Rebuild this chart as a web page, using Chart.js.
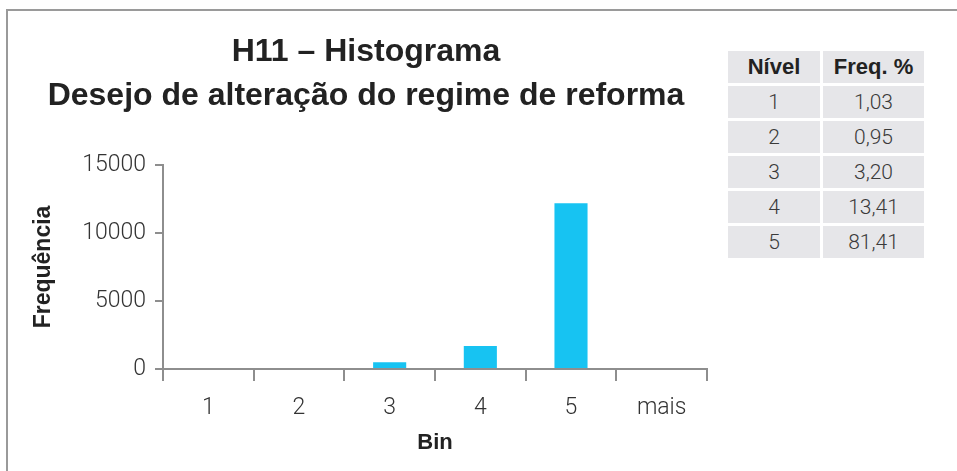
<!DOCTYPE html>
<html>
<head>
<meta charset="utf-8">
<script src="https://cdn.jsdelivr.net/npm/chart.js@4"></script>
<style>
  body { margin: 0; background: #fff; width: 957px; height: 471px; overflow: hidden; position: relative; font-family: Roboto, "Liberation Sans", sans-serif; }
  #frame { position: absolute; left: 6px; top: 9px; width: 1000px; height: 500px; border-top: 2px solid #9a9a9a; border-left: 2px solid #9a9a9a; }
  #wrap { position: absolute; left: 25px; top: 10px; width: 700px; height: 461px; }
  #tabela { position: absolute; left: 725px; top: 48px; border-collapse: separate; border-spacing: 3px; }
  #tabela td, #tabela th { background: #e6e6e9; height: 32px; padding: 0; text-align: center; font-size: 21px; color: #3a3a3a; font-weight: 300; }
  #tabela th { font-family: "Liberation Sans", sans-serif; font-size: 22px; font-weight: 700; color: #222; }
</style>
</head>
<body>
<div id="frame"></div>
<div id="wrap"><canvas id="myChart" width="700" height="461"></canvas></div>
<table id="tabela"></table>
<script>
// dados do histograma
var bins = ['1', '2', '3', '4', '5', 'mais']
var frequencia = [0, 0, 490, 1690, 12190, 0]
var yTicks = [0, 5000, 10000, 15000]

// tabela ao lado
var niveis = ['1', '2', '3', '4', '5']
var freqPct = ['1,03', '0,95', '3,20', '13,41', '81,41']

function start(){
  var tab = document.getElementById('tabela')
  var html = '<tr><th style="width:92px">Nível</th><th style="width:101px">Freq. %</th></tr>'
  for (var i = 0; i < niveis.length; i++) {
    html += `<tr><td>${niveis[i]}</td><td>${freqPct[i]}</td></tr>`
  }
  tab.innerHTML = html

  var ctx = document.getElementById('myChart').getContext('2d')
  var eixo = '#8e8e8e'
  var tickFont = { family: 'Roboto', size: 23, weight: 300 }
  var myChart = new Chart(ctx, {
    type: 'bar',
    data: {
      labels: bins,
      datasets: [{
        label: 'Frequência',
        data: frequencia,
        backgroundColor: '#17c3f2',
        borderWidth: 0,
        categoryPercentage: 1,
        barPercentage: 0.365
      }]
    },
    options: {
      responsive: false,
      animation: false,
      layout: { padding: { left: 0, right: 18, top: 0, bottom: 0 } },
      plugins: {
        legend: { display: false },
        tooltip: { enabled: false },
        title: {
          display: true,
          text: ['H11 – Histograma', 'Desejo de alteração do regime de reforma'],
          color: '#222',
          font: { family: 'Liberation Sans', size: 32, weight: 'bold', lineHeight: 1.375 },
          padding: { top: 20, bottom: 47 }
        }
      },
      scales: {
        x: {
          z: 1,
          offset: true,
          grid: { display: true, drawOnChartArea: false, drawTicks: true, tickLength: 12, color: eixo, lineWidth: 2, offset: true },
          border: { display: true, color: eixo, width: 2 },
          ticks: { color: '#333', font: tickFont, padding: 13, maxRotation: 0 },
          title: { display: true, text: 'Bin', color: '#222', font: { family: 'Liberation Sans', size: 22, weight: 'bold' }, padding: { top: 0, bottom: 15 } },
          afterFit: function(s){ s.height = 102 }
        },
        y: {
          min: 0,
          max: 15000,
          afterBuildTicks: function(s){ s.ticks = yTicks.map(v => ({ value: v })) },
          grid: { display: true, drawOnChartArea: false, drawTicks: true, tickLength: 8, color: eixo, lineWidth: 2 },
          border: { display: true, color: eixo, width: 2 },
          ticks: { color: '#333', font: tickFont, padding: 9, callback: v => v },
          title: { display: true, text: 'Frequência', color: '#222', font: { family: 'Liberation Sans', size: 23, weight: 'bold' }, padding: { top: 5, bottom: 0 } },
          afterFit: function(s){ s.width = 138 }
        }
      }
    }
  })
}
start()
</script>
</body>
</html>
